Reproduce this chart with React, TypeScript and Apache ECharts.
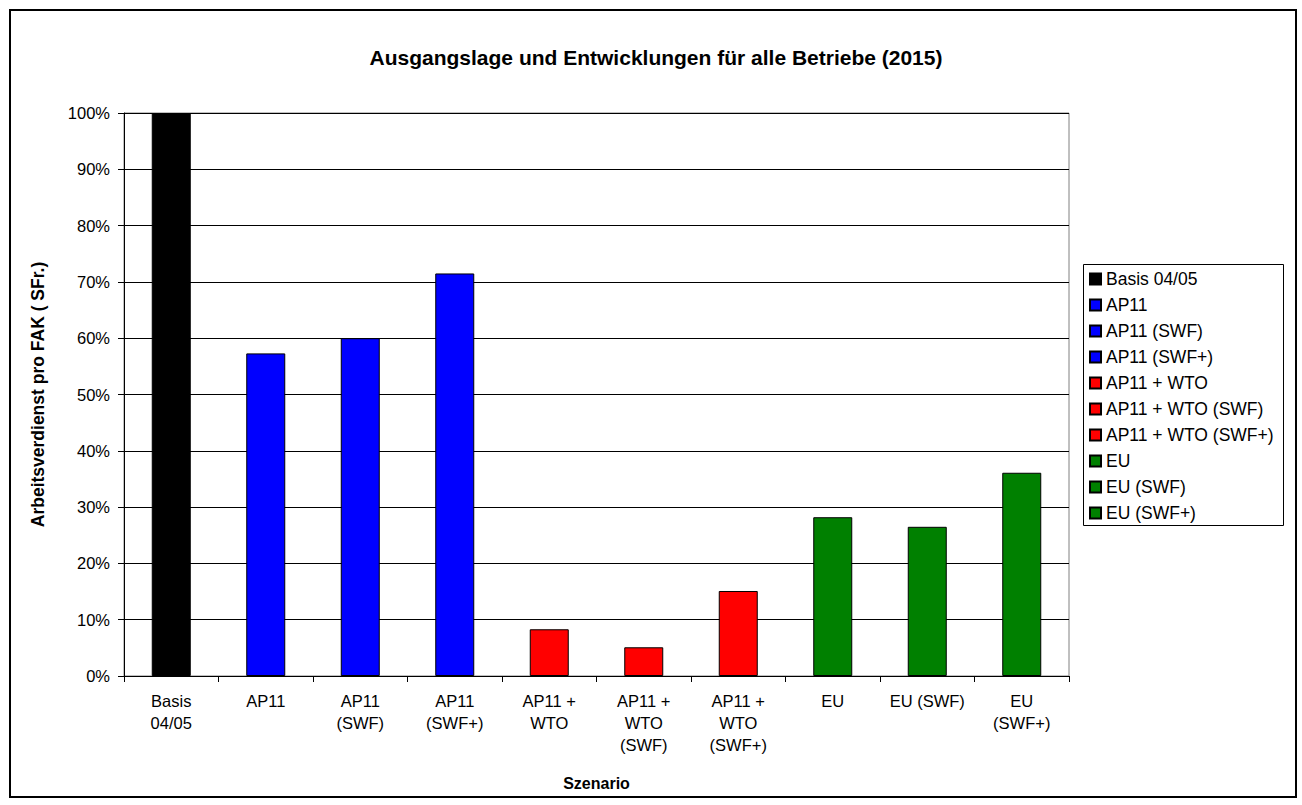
import React, { useEffect, useRef } from "react";
import * as echarts from "echarts";

const categories = [
  "Basis\n04/05",
  "AP11",
  "AP11\n(SWF)",
  "AP11\n(SWF+)",
  "AP11 +\nWTO",
  "AP11 +\nWTO\n(SWF)",
  "AP11 +\nWTO\n(SWF+)",
  "EU",
  "EU (SWF)",
  "EU\n(SWF+)",
];
const seriesNames = [
  "Basis 04/05",
  "AP11",
  "AP11 (SWF)",
  "AP11 (SWF+)",
  "AP11 + WTO",
  "AP11 + WTO (SWF)",
  "AP11 + WTO (SWF+)",
  "EU",
  "EU (SWF)",
  "EU (SWF+)",
];
const values = [100, 57.3, 60.0, 71.5, 8.3, 5.1, 15.1, 28.2, 26.5, 36.1];
const colors = [
  "#000000",
  "#0000FF",
  "#0000FF",
  "#0000FF",
  "#FF0000",
  "#FF0000",
  "#FF0000",
  "#008000",
  "#008000",
  "#008000",
];
const titleText = "Ausgangslage und Entwicklungen für alle Betriebe (2015)";
const yTitle = "Arbeitsverdienst pro FAK ( SFr.)";
const xTitle = "Szenario";

const FONT = "'Liberation Sans', Arial, sans-serif";

export default function App() {
  const ref = useRef<HTMLDivElement>(null);
  useEffect(() => {
    document.body.style.margin = "0";
    const chart = echarts.init(ref.current!, undefined, { renderer: "svg" });
    const series = seriesNames.map((name, i) => ({
      type: "bar",
      name,
      stack: "all",
      barWidth: 39,
      data: values.map((v, j) => (j === i ? v : "-")),
      itemStyle: { color: colors[i], borderColor: "#000", borderWidth: 1 },
    }));
    chart.setOption({
      animation: false,
      textStyle: { fontFamily: FONT },
      grid: {
        left: 124,
        right: 233,
        top: 113,
        bottom: 129,
        show: true,
        borderColor: "#808080",
        borderWidth: 1,
      },
      legend: {
        orient: "vertical",
        left: 1089,
        top: 270,
        padding: 0,
        itemWidth: 11,
        itemHeight: 11,
        itemGap: 8,
        icon: "rect",
        textStyle: { fontSize: 17.5, color: "#000", fontFamily: FONT, lineHeight: 18 },
        data: seriesNames,
      },
      xAxis: {
        type: "category",
        data: categories,
        name: xTitle,
        nameLocation: "middle",
        nameGap: 99,
        nameTextStyle: { fontSize: 16, fontWeight: "bold", color: "#000", fontFamily: FONT },
        axisLine: { lineStyle: { color: "#000", width: 1 } },
        axisTick: { show: true, length: 6, alignWithLabel: false, lineStyle: { color: "#000" } },
        axisLabel: {
          fontSize: 16.5,
          color: "#000",
          lineHeight: 22,
          margin: 14,
          interval: 0,
          fontFamily: FONT,
        },
      },
      yAxis: {
        type: "value",
        min: 0,
        max: 100,
        interval: 10,
        name: yTitle,
        nameLocation: "middle",
        nameGap: 77,
        nameTextStyle: { fontSize: 17.5, fontWeight: "bold", color: "#000", fontFamily: FONT },
        axisLine: { show: true, lineStyle: { color: "#000", width: 1 } },
        axisTick: { show: true, length: 6, lineStyle: { color: "#000" } },
        axisLabel: {
          fontSize: 16.5,
          color: "#000",
          margin: 14,
          formatter: "{value}%",
          fontFamily: FONT,
        },
        splitLine: { show: true, lineStyle: { color: "#000", width: 1 } },
      },
      graphic: [
        {
          type: "rect",
          shape: { x: 10, y: 10, width: 1286, height: 787 },
          style: { fill: "none", stroke: "#000", lineWidth: 2 },
          z: -1,
        },
        {
          type: "rect",
          shape: { x: 1083.5, y: 264.5, width: 200, height: 261 },
          style: { fill: "none", stroke: "#000", lineWidth: 1 },
          z: -1,
        },
        {
          type: "text",
          x: 656,
          y: 57,
          style: {
            text: titleText,
            fontSize: 21,
            fontWeight: "bold",
            fontFamily: FONT,
            fill: "#000",
            textAlign: "center",
            textVerticalAlign: "middle",
          },
        },
      ],
      series,
    });
    return () => chart.dispose();
  }, []);
  return <div ref={ref} style={{ width: 1302, height: 805 }} />;
}
